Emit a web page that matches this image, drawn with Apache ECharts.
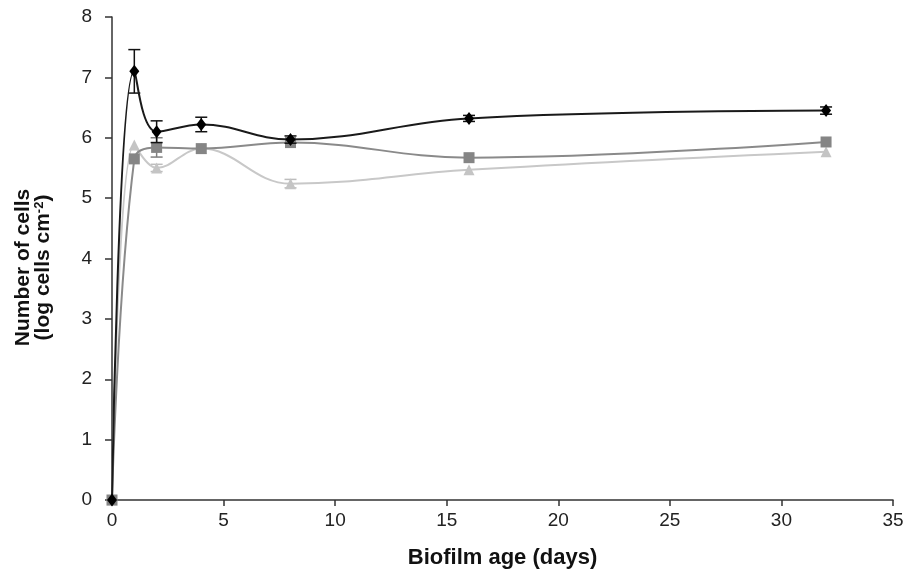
<!DOCTYPE html>
<html><head><meta charset="utf-8">
<script src="https://cdn.jsdelivr.net/npm/echarts@6/dist/echarts.min.js"></script>
<style>html,body{margin:0;padding:0;background:#fff}#c{width:917px;height:577px}</style>
</head><body><div id="c"></div>
<script>
var days = [0, 1, 2, 4, 8, 16, 32];
var seriesA = [0, 7.10, 6.10, 6.22, 5.97, 6.32, 6.45];
var errA    = [0, 0.36, 0.18, 0.12, 0.06, 0.05, 0.06];
var seriesB = [0, 5.65, 5.84, 5.82, 5.92, 5.67, 5.93];
var errB    = [0, 0, 0.16, 0, 0, 0, 0];
var seriesC = [0, 5.88, 5.50, 5.82, 5.24, 5.47, 5.77];
var errC    = [0, 0, 0.06, 0, 0.07, 0, 0];
var xTicks = [0, 5, 10, 15, 20, 25, 30, 35];
var yTicks = [0, 1, 2, 3, 4, 5, 6, 7, 8];

function pts(v){ return days.map(function(d,i){ return [d, v[i]]; }); }
function errData(v,e){ var r=[]; days.forEach(function(d,i){ if(e[i]>0) r.push([d, v[i]-e[i], v[i]+e[i]]); }); return r; }
function errSeries(v,e,color,z){
  return {type:'custom', z:z, silent:true, data: errData(v,e),
    renderItem:function(params, api){
      var lo = api.coord([api.value(0), api.value(1)]);
      var hi = api.coord([api.value(0), api.value(2)]);
      var w = 6;
      var st = {stroke: color, lineWidth: 1.5};
      return {type:'group', children:[
        {type:'line', shape:{x1:lo[0],y1:lo[1],x2:hi[0],y2:hi[1]}, style:st},
        {type:'line', shape:{x1:lo[0]-w,y1:lo[1],x2:lo[0]+w,y2:lo[1]}, style:st},
        {type:'line', shape:{x1:hi[0]-w,y1:hi[1],x2:hi[0]+w,y2:hi[1]}, style:st}
      ]};
    }};
}
var chart = echarts.init(document.getElementById('c'));
var tickFont = {color:'#222', fontSize:19, fontFamily:'Liberation Sans'};
chart.setOption({
  animation:false,
  grid:{left:112, right:24, top:17, bottom:77},
  xAxis:{type:'value', min:xTicks[0], max:xTicks[xTicks.length-1], interval:5,
    name:'Biofilm age (days)', nameLocation:'middle', nameGap:47,
    nameTextStyle:{fontWeight:'bold', fontSize:22, color:'#111', fontFamily:'Liberation Sans'},
    axisLine:{lineStyle:{color:'#333', width:1.5}},
    axisTick:{show:true, length:6, lineStyle:{color:'#333', width:1.5}},
    axisLabel:Object.assign({margin:11}, tickFont),
    splitLine:{show:false}},
  yAxis:{type:'value', min:yTicks[0], max:yTicks[yTicks.length-1], interval:1,
    name:'{a|Number of cells}\n{a|(log cells cm}{s|-2}{a|)}', nameLocation:'middle', nameGap:59, nameRotate:90,
    nameTextStyle:{padding:[0,18,0,0], rich:{
      a:{fontWeight:'bold', fontSize:21, color:'#111', fontFamily:'Liberation Sans', lineHeight:20},
      s:{fontWeight:'bold', fontSize:13, color:'#111', fontFamily:'Liberation Sans', verticalAlign:'top', lineHeight:20, padding:[0,0,8,0]}
    }},
    axisLine:{show:true, lineStyle:{color:'#333', width:1.5}},
    axisTick:{show:true, length:7, lineStyle:{color:'#333', width:1.5}},
    axisLabel:Object.assign({margin:20}, tickFont),
    splitLine:{show:false}},
  series:[
    errSeries(seriesC, errC, '#bdbdbd', 1),
    {type:'line', z:2, data:pts(seriesC), smooth:0.4, symbol:'triangle', symbolSize:11,
      itemStyle:{color:'#c4c4c4'}, lineStyle:{color:'#c8c8c8', width:2}},
    errSeries(seriesB, errB, '#7f7f7f', 3),
    {type:'line', z:4, data:pts(seriesB), smooth:0.4, symbol:'rect', symbolSize:11,
      itemStyle:{color:'#858585'}, lineStyle:{color:'#8a8a8a', width:2}},
    errSeries(seriesA, errA, '#111', 5),
    {type:'line', z:6, data:pts(seriesA), smooth:0.4, symbol:'diamond', symbolSize:[10,13],
      itemStyle:{color:'#000'}, lineStyle:{color:'#1a1a1a', width:2}}
  ]
});
</script></body></html>
